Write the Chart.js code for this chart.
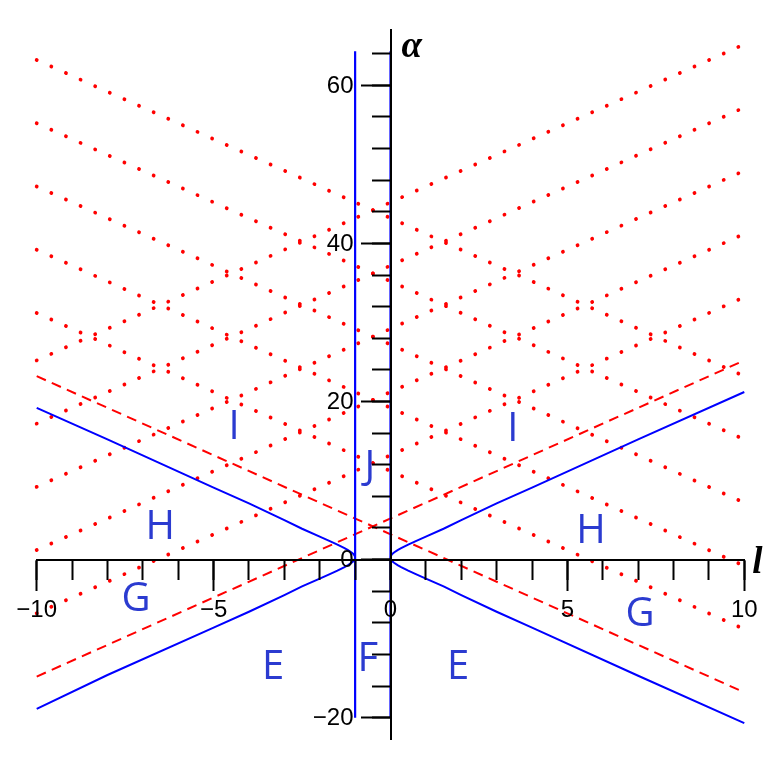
<!DOCTYPE html>
<html><head><meta charset="utf-8">
<script src="https://cdn.jsdelivr.net/npm/chart.js@4.4.1/dist/chart.umd.min.js"></script>
<style>html,body{margin:0;padding:0;background:#fff;} canvas{display:block;}</style>
</head><body>
<canvas id="c" width="772" height="772"></canvas>
<script>
// ---------------- data ----------------
const lEnds = [-10, 10];
// red dotted lines: alpha at l = -10 and at l = 10
const risingDottedAtLeft   = [-6.8, 1.2, 9.2, 17.2, 25.2];
const risingDottedAtRight  = [33.2, 41.2, 49.2, 57.2, 65.2];
const fallingDottedAtLeft  = [31.2, 39.2, 47.2, 55.2, 63.2];
const fallingDottedAtRight = [-8.8, -0.8, 7.2, 15.2, 23.2];
// red dashed lines: alpha at l = -10 and at l = 10
const risingDashed  = [-14.8, 25.2];
const fallingDashed = [23.2, -16.8];
// blue boundary curves
const rightBranchL     = [0, 0.01, 0.05, 0.1, 0.2, 0.3, 0.5, 0.7, 1, 1.5, 2, 3, 4, 7, 10];
const rightUpperAlpha  = [0.25, 0.45, 0.71, 0.9, 1.2, 1.45, 1.9, 2.3, 2.9, 3.9, 5.0, 7.1, 9.1, 15.2, 21.2];
const rightLowerAlpha  = [0.25, 0.05, -0.21, -0.4, -0.7, -0.95, -1.4, -1.8, -2.4, -3.4, -4.5, -6.6, -8.6, -14.7, -20.7];
const leftBranchL      = [-1, -1.01, -1.05, -1.1, -1.2, -1.3, -1.5, -1.7, -2, -2.5, -3, -4, -5, -8, -10];
const leftUpperAlpha   = [0.25, 0.45, 0.71, 0.9, 1.2, 1.45, 1.9, 2.3, 2.9, 3.9, 5.0, 7.1, 9.1, 15.2, 19.2];
const leftLowerAlpha   = [0.25, 0.05, -0.21, -0.4, -0.7, -0.95, -1.4, -1.8, -2.4, -3.4, -4.5, -6.6, -8.6, -14.6, -18.9];
// blue vertical boundaries
const verticalLinesL = [-1, 0];
const verticalSpan   = [-20, 64.3];
// region letters (anchor in data units)
const regionNames = ['I', 'I', 'J', 'H', 'H', 'G', 'G', 'E', 'E', 'F'];
const regionL     = [-4.42, 3.46, -0.58, -6.51, 5.67, -7.19, 7.05, -3.32, 1.91, -0.64];
const regionAlpha = [16.7, 16.4, 11.6, 4.1, 3.5, -5.1, -7.0, -13.7, -13.7, -12.7];
// axes
const lRange = [-10, 10];
const alphaRange = [-22.7, 67];
const lTickLabels = [-10, -5, 0, 5, 10];
const lMinorTicks = [-10, -9, -8, -7, -6, -5, -4, -3, -2, -1, 0, 1, 2, 3, 4, 5, 6, 7, 8, 9, 10];
const alphaTickLabels = [-20, 0, 20, 40, 60];
const alphaMinorTicks = [-20, -16, -12, -8, -4, 0, 4, 8, 12, 16, 20, 24, 28, 32, 36, 40, 44, 48, 52, 56, 60, 64];
const axisNames = ['l', '\u03b1'];

// ---------------- build ----------------
const BLUE = '#0000ff', RED = '#ff0000';
const pts = (xs, ys) => xs.map((x, i) => ({x: x, y: ys[i]}));
const base = {showLine: true, pointRadius: 0, pointHoverRadius: 0, fill: false, tension: 0, clip: 6};
const datasets = [];
datasets.push(Object.assign({}, base, {data: pts(rightBranchL, rightUpperAlpha), borderColor: BLUE, borderWidth: 2}));
datasets.push(Object.assign({}, base, {data: pts(rightBranchL, rightLowerAlpha), borderColor: BLUE, borderWidth: 2}));
datasets.push(Object.assign({}, base, {data: pts(leftBranchL, leftUpperAlpha), borderColor: BLUE, borderWidth: 2}));
datasets.push(Object.assign({}, base, {data: pts(leftBranchL, leftLowerAlpha), borderColor: BLUE, borderWidth: 2}));
verticalLinesL.forEach(l => datasets.push(Object.assign({}, base, {
  data: [{x: l, y: verticalSpan[0]}, {x: l, y: verticalSpan[1]}], borderColor: BLUE, borderWidth: 2.2})));
datasets.push(Object.assign({}, base, {data: pts(lEnds, risingDashed), borderColor: RED, borderWidth: 2, borderDash: [10, 6.5]}));
datasets.push(Object.assign({}, base, {data: pts(lEnds, fallingDashed), borderColor: RED, borderWidth: 2, borderDash: [10, 6.5]}));
const dotted = {borderColor: RED, borderWidth: 3.8, borderDash: [0.01, 16], borderCapStyle: 'round'};
risingDottedAtLeft.forEach((a, i) => datasets.push(Object.assign({}, base, dotted, {data: pts(lEnds, [a, risingDottedAtRight[i]])})));
fallingDottedAtLeft.forEach((a, i) => datasets.push(Object.assign({}, base, dotted, {data: pts(lEnds, [a, fallingDottedAtRight[i]])})));

const fmt = v => (v < 0 ? '\u2212' + Math.abs(v) : String(v));
const tickFont = {size: 24, family: '"Liberation Sans", Arial, sans-serif'};
const TICK_MAJOR_Y = 29, LABEL_PAD_Y = 7;

function axisScale(axis, range, posKey, ticksArr, tickLen, showLabels, showBorder, padding) {
  return {
    type: 'linear', axis: axis, min: range[0], max: range[1],
    position: posKey,
    afterBuildTicks: s => { s.ticks = ticksArr.map(v => ({value: v})); },
    grid: {display: true, drawOnChartArea: false, drawTicks: true, tickLength: tickLen, tickWidth: 2, tickColor: '#000', z: 1},
    border: {display: showBorder, color: '#000', width: 2, z: 1},
    ticks: {display: showLabels, color: '#000', font: tickFont, padding: padding, maxRotation: 0, minRotation: 0, autoSkip: false, callback: fmt, z: 1}
  };
}

const textPlugin = {
  id: 'texts',
  afterDraw(chart) {
    const {ctx, chartArea} = chart;
    const x = chart.scales.x, y = chart.scales.y;
    ctx.save();
    // alpha-axis tick labels, right-aligned left of the major ticks
    ctx.fillStyle = '#000';
    ctx.font = '24px "Liberation Sans", Arial, sans-serif';
    ctx.textAlign = 'right';
    ctx.textBaseline = 'middle';
    const yAxisPx = x.getPixelForValue(0);
    y.ticks.forEach(t => ctx.fillText(fmt(t.value), yAxisPx - 1 - TICK_MAJOR_Y - LABEL_PAD_Y, y.getPixelForValue(t.value) + 1));
    // region letters
    ctx.fillStyle = '#2b3bd0';
    ctx.font = '40px "Open Sans", sans-serif';
    ctx.textAlign = 'center';
    ctx.textBaseline = 'middle';
    regionNames.forEach((t, i) => ctx.fillText(t, x.getPixelForValue(regionL[i]), y.getPixelForValue(regionAlpha[i])));
    // axis names
    ctx.fillStyle = '#000';
    ctx.font = 'italic bold 37px "Liberation Serif", serif';
    ctx.textAlign = 'left';
    ctx.textBaseline = 'alphabetic';
    ctx.fillText(axisNames[1], x.getPixelForValue(0) + 11, chartArea.top + 27);
    ctx.fillText(axisNames[0], chartArea.right + 8, y.getPixelForValue(0) + 13);
    ctx.restore();
  }
};

new Chart(document.getElementById('c'), {
  type: 'scatter',
  data: {datasets: datasets},
  options: {
    responsive: false, animation: false, events: [],
    layout: {padding: {left: 36.7, right: 27.7, top: 30, bottom: 33}},
    plugins: {legend: {display: false}, tooltip: {enabled: false}},
    scales: {
      x: axisScale('x', lRange, {y: 0}, lTickLabels, 30, true, true, 6),
      xMinor: axisScale('x', lRange, {y: 0}, lMinorTicks, 20, false, false, 6),
      y: axisScale('y', alphaRange, {x: 0}, alphaTickLabels, TICK_MAJOR_Y, false, true, LABEL_PAD_Y),
      yMinor: axisScale('y', alphaRange, {x: 0}, alphaMinorTicks, 19, false, false, LABEL_PAD_Y)
    }
  },
  plugins: [textPlugin]
});
</script>
</body></html>
